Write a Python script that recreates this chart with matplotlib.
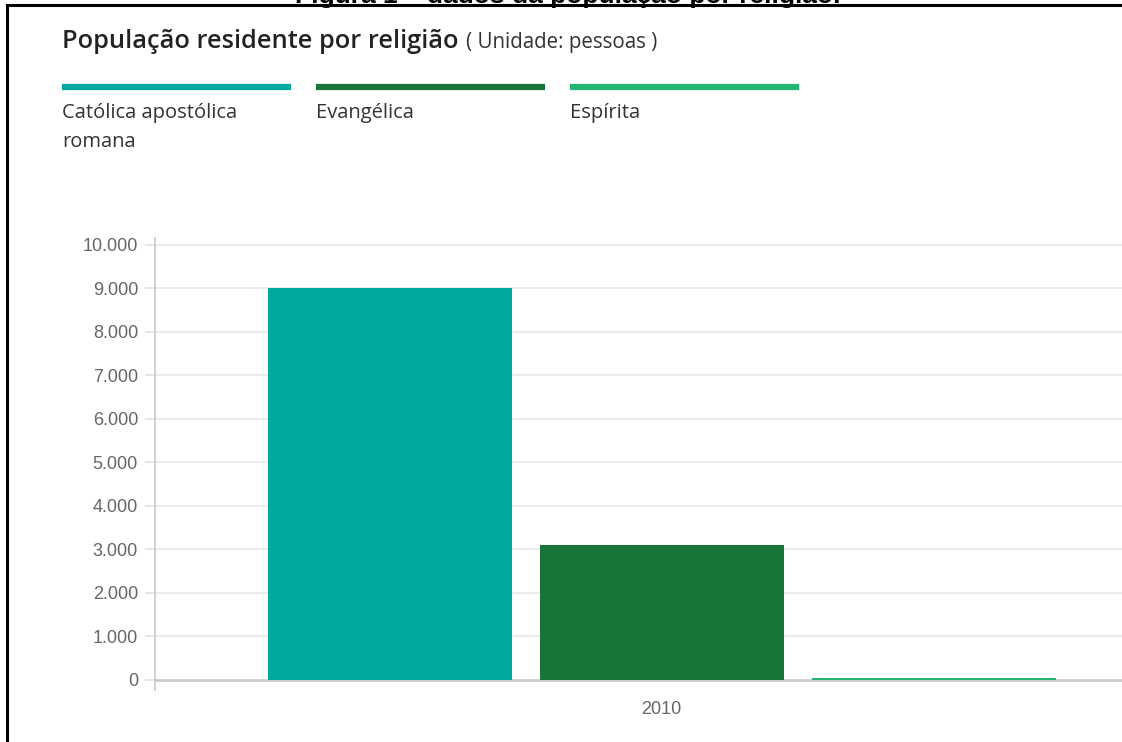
import matplotlib
matplotlib.use("Agg")
import matplotlib.pyplot as plt
from matplotlib.lines import Line2D

# Data
categories = ["2010"]
series_names = ["Católica apostólica\nromana", "Evangélica", "Espírita"]
series_values = [9010, 3100, 45]
series_colors = ["#00a99d", "#18753a", "#22b573"]
yticks = [0, 1000, 2000, 3000, 4000, 5000, 6000, 7000, 8000, 9000, 10000]
ytick_labels = ["0", "1.000", "2.000", "3.000", "4.000", "5.000", "6.000",
                "7.000", "8.000", "9.000", "10.000"]

W, H = 1122, 742
fig = plt.figure(figsize=(W / 100, H / 100), dpi=100)

def fx(px):
    return px / W

def fy(py):
    return 1 - py / H

# Axes: x 155..1122, y 238..690
ax = fig.add_axes([fx(155), fy(690), fx(1122 - 155), (690 - 238) / H])
ax.set_ylim(-230, 10160)
pitch = 272.0
ax.set_xlim(-(661.5 - 155) / pitch, (1122 - 661.5) / pitch)

for s in ["top", "right", "bottom"]:
    ax.spines[s].set_visible(False)
ax.spines["left"].set_color("#c8c8c8")
ax.spines["left"].set_linewidth(1.2)

# gridlines
for t in yticks:
    if t == 0:
        ax.axhline(t, color="#cccccc", lw=2.0, zorder=1)
    else:
        ax.axhline(t, color="#e8e8e8", lw=1.2, zorder=0)

bar_w = 244 / pitch
for i, (v, c) in enumerate(zip(series_values, series_colors)):
    ax.bar(i - 1, v, width=bar_w, color=c, zorder=2, linewidth=0)

ax.set_yticks(yticks)
ax.set_yticklabels(ytick_labels, fontfamily="Liberation Sans", fontsize=13, color="#666666")
ax.tick_params(axis="y", length=7.2, width=1.2, color="#e0e0e0", pad=5)
ax.set_xticks([0])
ax.set_xticklabels(categories, fontfamily="Liberation Sans", fontsize=13, color="#666666")
ax.tick_params(axis="x", length=0, pad=8)

# Title
fig.text(fx(62), fy(48), "População residente por religião", fontfamily="Open Sans",
         fontweight="semibold", fontsize=18.3, color="#222222", va="baseline", ha="left")
fig.text(fx(466), fy(48), "( Unidade: pessoas )", fontfamily="Open Sans",
         fontsize=14.8, color="#333333", va="baseline", ha="left")

# Legend
leg_x = [62, 316, 570]
for x0, name, c in zip(leg_x, series_names, series_colors):
    fig.add_artist(Line2D([fx(x0), fx(x0 + 229)], [fy(87), fy(87)], color=c, lw=4.5,
                          solid_capstyle="butt"))
    fig.text(fx(x0), fy(103), name, fontfamily="Open Sans", fontsize=14.5, color="#333333",
             va="top", ha="left", linespacing=1.57)

# Frame lines and caption
fig.add_artist(Line2D([fx(7), fx(1122)], [fy(5), fy(5)], color="black", lw=2.2))
fig.add_artist(Line2D([fx(7), fx(7)], [fy(5), fy(742)], color="black", lw=2.2))
fig.text(fx(568), fy(3), "Figura 1 – dados da população por religião.", fontfamily="Liberation Sans",
         fontweight="bold", fontsize=19, ha="center", va="baseline", color="black")

fig.savefig("out.png", dpi=100, facecolor="white")
